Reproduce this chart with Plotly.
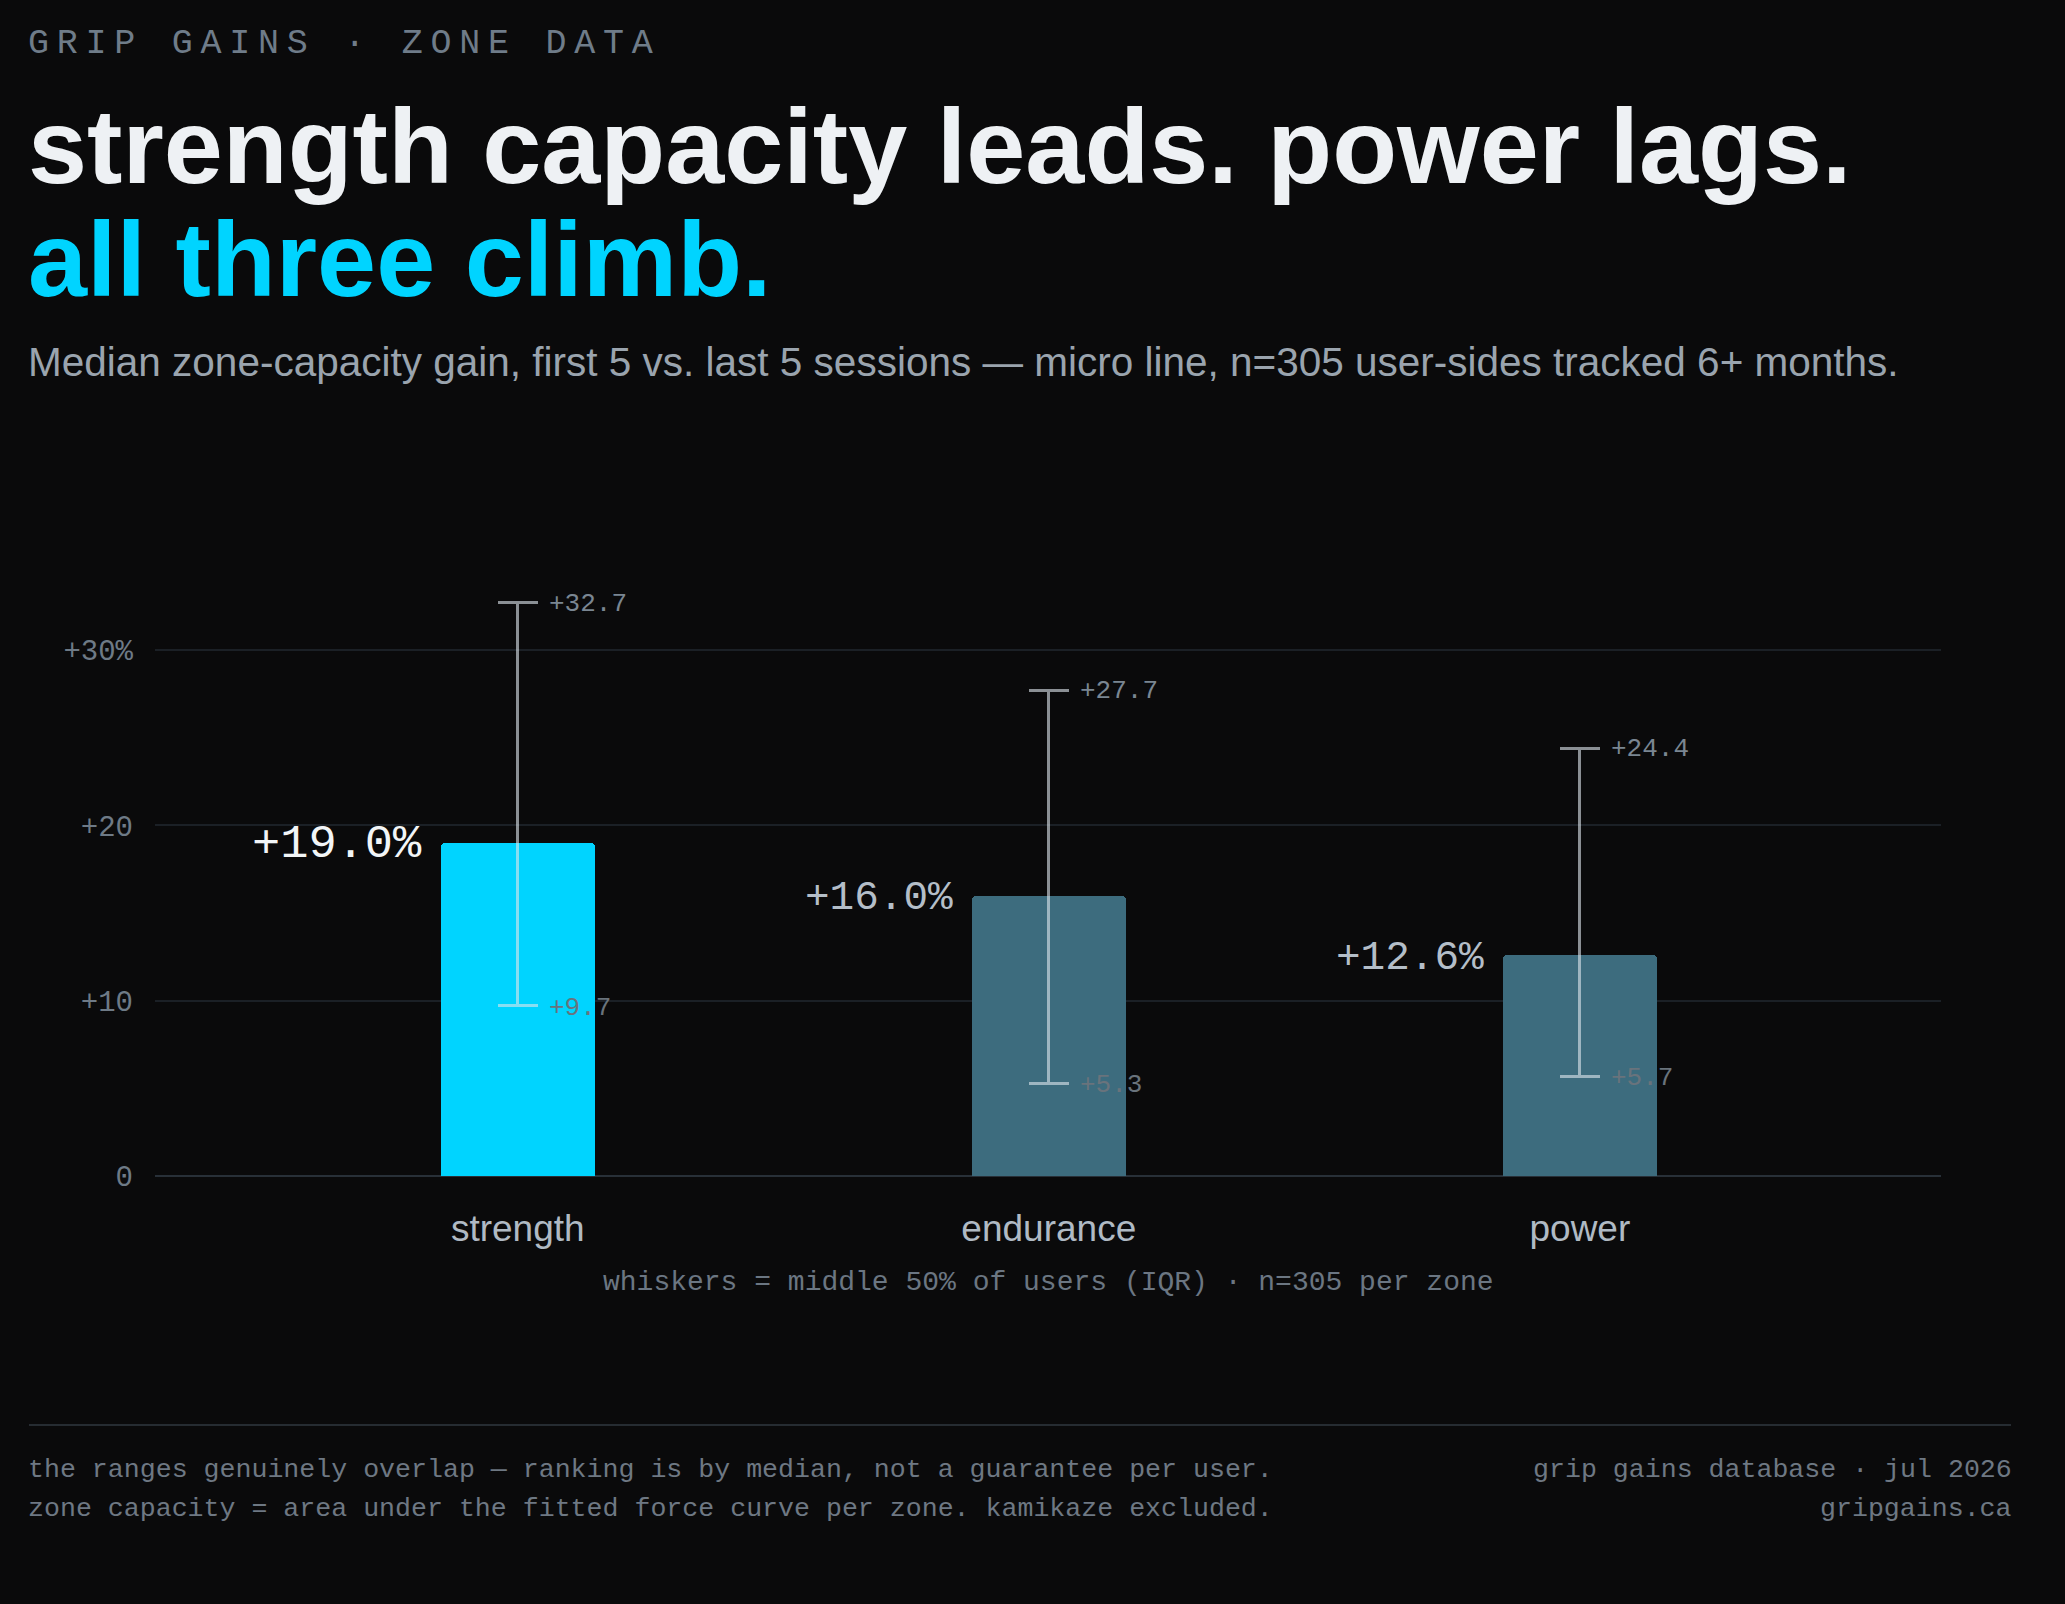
import plotly.graph_objects as go

# ---- data ----
zones = ["strength", "endurance", "power"]
median_gain = [19.0, 16.0, 12.6]
iqr_low = [9.7, 5.3, 5.7]
iqr_high = [32.7, 27.7, 24.4]
y_tickvals = [0, 10, 20, 30]
y_ticktext = ["0", "+10", "+20", "+30%"]

# ---- canvas geometry ----
W, H = 2065, 1604
L, R, T, B = 155, 124, 545, 428
PW, PH = W - L - R, H - T - B

def px(x):
    return (x - L) / PW

def py(y):
    return (H - B - y) / PH

BG = "#0a0a0b"
MONO = "Liberation Mono, DejaVu Sans Mono, monospace"
SANS = "Liberation Sans, Arial, sans-serif"
CYAN = "#00d4ff"
SLATE = "#3d6c7e"

bar_colors = [CYAN if i == 0 else SLATE for i in range(len(zones))]

fig = go.Figure()
fig.add_trace(go.Bar(
    x=zones,
    y=median_gain,
    width=0.29,
    marker=dict(color=bar_colors, line=dict(width=0), cornerradius=4),
    error_y=dict(
        type="data",
        symmetric=False,
        array=[h - m for h, m in zip(iqr_high, median_gain)],
        arrayminus=[m - l for m, l in zip(median_gain, iqr_low)],
        color="rgba(220,228,234,0.62)",
        thickness=3,
        width=20,
    ),
    hoverinfo="skip",
))

annotations = []

label_shift = [-2, -2, -3]
for i, (z, m) in enumerate(zip(zones, median_gain)):
    lead = i == 0
    annotations.append(dict(
        x=i - 0.177, y=m, xref="x", yref="y",
        text=f"+{m:.1f}%", showarrow=False,
        xanchor="right", yanchor="middle", yshift=label_shift[i],
        font=dict(family=MONO, size=47 if lead else 41,
                  color="#f2f5f7" if lead else "#b4bec8"),
    ))
    annotations.append(dict(
        x=i + 0.055, y=iqr_high[i], xref="x", yref="y",
        text=f"+{iqr_high[i]:.1f}", showarrow=False,
        xanchor="left", yanchor="middle", yshift=-1,
        font=dict(family=MONO, size=26, color="#7a8692"),
    ))
    annotations.append(dict(
        x=i + 0.055, y=iqr_low[i], xref="x", yref="y",
        text=f"+{iqr_low[i]:.1f}", showarrow=False,
        xanchor="left", yanchor="middle", yshift=-2,
        font=dict(family=MONO, size=26, color="#69737c"),
    ))

annotations += [
    dict(x=px(26), y=py(44), xref="paper", yref="paper", showarrow=False,
         xanchor="left", yanchor="middle",
         text='<span style="letter-spacing:7.75px">GRIP GAINS · ZONE DATA</span>',
         font=dict(family=MONO, size=35, color="#6f7c89")),
    dict(x=px(26), y=py(146), xref="paper", yref="paper", showarrow=False,
         xanchor="left", yanchor="middle",
         text="<b>strength capacity leads. power lags.</b>",
         font=dict(family=SANS, size=106.2, color="#eef1f4")),
    dict(x=px(26), y=py(259), xref="paper", yref="paper", showarrow=False,
         xanchor="left", yanchor="middle",
         text="<b>all three climb.</b>",
         font=dict(family=SANS, size=106.2, color=CYAN)),
    dict(x=px(26), y=py(362), xref="paper", yref="paper", showarrow=False,
         xanchor="left", yanchor="middle",
         text="Median zone-capacity gain, first 5 vs. last 5 sessions — micro line, n=305 user-sides tracked 6+ months.",
         font=dict(family=SANS, size=40.5, color="#9aa4ae")),
    dict(x=px(1048), y=py(1282), xref="paper", yref="paper", showarrow=False,
         xanchor="center", yanchor="middle",
         text="whiskers = middle 50% of users (IQR) · n=305 per zone",
         font=dict(family=MONO, size=28, color="#6b7682")),
    dict(x=px(26), y=py(1470), xref="paper", yref="paper", showarrow=False,
         xanchor="left", yanchor="middle",
         text="the ranges genuinely overlap — ranking is by median, not a guarantee per user.",
         font=dict(family=MONO, size=26.6, color="#6e7883")),
    dict(x=px(26), y=py(1509), xref="paper", yref="paper", showarrow=False,
         xanchor="left", yanchor="middle",
         text="zone capacity = area under the fitted force curve per zone. kamikaze excluded.",
         font=dict(family=MONO, size=26.6, color="#6e7883")),
    dict(x=px(2014), y=py(1470), xref="paper", yref="paper", showarrow=False,
         xanchor="right", yanchor="middle",
         text="grip gains database · jul 2026",
         font=dict(family=MONO, size=26.6, color="#6e7883")),
    dict(x=px(2014), y=py(1509), xref="paper", yref="paper", showarrow=False,
         xanchor="right", yanchor="middle",
         text="gripgains.ca",
         font=dict(family=MONO, size=26.6, color="#6e7883")),
]

shapes = [
    dict(type="line", xref="paper", yref="paper",
         x0=px(29), x1=px(2011), y0=py(1425), y1=py(1425),
         line=dict(color="#262c32", width=2)),
]

fig.update_layout(
    width=W, height=H,
    margin=dict(l=L, r=R, t=T, b=B),
    paper_bgcolor=BG, plot_bgcolor=BG,
    showlegend=False,
    bargap=0,
    annotations=annotations,
    shapes=shapes,
    xaxis=dict(
        type="category", range=[-0.683, 2.680],
        showgrid=False, zeroline=False, showline=False,
        ticks="", tickfont=dict(family=SANS, size=37, color="#b0bac4"),
        ticklabelstandoff=27,
        fixedrange=True,
    ),
    yaxis=dict(
        range=[0, 36], tickvals=y_tickvals, ticktext=y_ticktext,
        showgrid=True, gridcolor="#1b2026", gridwidth=2,
        zeroline=True, zerolinecolor="#283038", zerolinewidth=2,
        showline=False, ticks="",
        tickfont=dict(family=MONO, size=29, color="#6e7a86"),
        ticklabelstandoff=21,
        fixedrange=True,
    ),
)

fig.write_html("out.html")
